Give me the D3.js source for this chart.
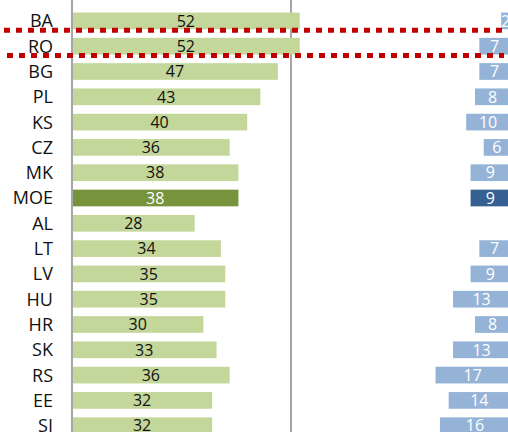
<!DOCTYPE html>
<html>
<head>
<meta charset="utf-8">
<script src="https://cdn.jsdelivr.net/npm/d3@7"></script>
<style>
  body { margin: 0; background: #fff; }
  text { font-family: "Open Sans", sans-serif; }
</style>
</head>
<body>
<div id="chart"></div>
<script>
const categories = ['BA', 'RO', 'BG', 'PL', 'KS', 'CZ', 'MK', 'MOE', 'AL', 'LT', 'LV', 'HU', 'HR', 'SK', 'RS', 'EE', 'SI'];
const leftValues = [52, 52, 47, 43, 40, 36, 38, 38, 28, 34, 35, 35, 30, 33, 36, 32, 32];
const rightValues = [2, 7, 7, 8, 10, 6, 9, 9, null, 7, 9, 13, 8, 13, 17, 14, 16];
const gridTicks = [50];
const highlight = 'MOE';
const markedRows = ['BA', 'RO'];

const width = 508;
const height = 432;

const svg = d3.select('#chart')
  .append('svg')
  .attr('width', width)
  .attr('height', height);

const y = d3.scaleBand()
  .domain(categories)
  .range([8.25, 8.25 + 25.3 * categories.length])
  .paddingInner(0.34)
  .paddingOuter(0.17);

// left block grows to the right, right block grows to the left from the edge
const xL = d3.scaleLinear().domain([0, 50]).range([72, 291]);
const xR = d3.scaleLinear().domain([0, 50]).range([510, 291]);

// grid line
svg.selectAll('line.grid')
  .data(gridTicks)
  .enter()
  .append('line')
  .attr('class', 'grid')
  .attr('x1', d => xL(d))
  .attr('x2', d => xL(d))
  .attr('y1', 0)
  .attr('y2', height)
  .attr('stroke', '#a6a6a6')
  .attr('stroke-width', 2);

// left bars
svg.selectAll('rect.left')
  .data(categories)
  .enter()
  .append('rect')
  .attr('class', 'left')
  .attr('x', xL(0))
  .attr('y', d => y(d))
  .attr('width', (d, i) => xL(leftValues[i]) - xL(0))
  .attr('height', y.bandwidth())
  .attr('fill', d => (d === highlight ? '#77933c' : '#c4d79b'));

svg.selectAll('text.lval')
  .data(categories)
  .enter()
  .append('text')
  .attr('class', 'lval')
  .attr('x', (d, i) => (xL(0) + xL(leftValues[i])) / 2)
  .attr('y', d => y(d) + y.bandwidth() / 2)
  .attr('dy', '0.36em')
  .attr('text-anchor', 'middle')
  .attr('font-size', 16)
  .attr('fill', d => (d === highlight ? '#fff' : '#111'))
  .text((d, i) => leftValues[i]);

// right bars
const rightData = categories
  .map((c, i) => ({ c, v: rightValues[i] }))
  .filter(d => d.v != null);

svg.selectAll('rect.right')
  .data(rightData)
  .enter()
  .append('rect')
  .attr('class', 'right')
  .attr('x', d => xR(d.v))
  .attr('y', d => y(d.c))
  .attr('width', d => xR(0) - xR(d.v))
  .attr('height', y.bandwidth())
  .attr('fill', d => (d.c === highlight ? '#366092' : '#95b3d7'));

svg.selectAll('text.rval')
  .data(rightData)
  .enter()
  .append('text')
  .attr('class', 'rval')
  .attr('x', d => (xR(0) + xR(d.v)) / 2)
  .attr('y', d => y(d.c) + y.bandwidth() / 2)
  .attr('dy', '0.36em')
  .attr('text-anchor', 'middle')
  .attr('font-size', 16)
  .attr('fill', '#fff')
  .text(d => d.v);

// category axis
svg.append('line')
  .attr('x1', xL(0))
  .attr('x2', xL(0))
  .attr('y1', 0)
  .attr('y2', height)
  .attr('stroke', '#a6a6a6')
  .attr('stroke-width', 2);

svg.selectAll('text.cat')
  .data(categories)
  .enter()
  .append('text')
  .attr('class', 'cat')
  .attr('x', 53)
  .attr('y', d => y(d) + y.bandwidth() / 2)
  .attr('dy', '0.36em')
  .attr('text-anchor', 'end')
  .attr('font-size', 18)
  .attr('fill', '#111')
  .text(d => d);

// red dotted markers under the marked rows
svg.selectAll('line.mark')
  .data(markedRows)
  .enter()
  .append('line')
  .attr('class', 'mark')
  .attr('x1', (d, i) => (i === 0 ? 4 : 7))
  .attr('x2', (d, i) => (i === 0 ? 502 : 504))
  .attr('y1', d => y(d) + y.bandwidth() + 1)
  .attr('y2', d => y(d) + y.bandwidth() + 1)
  .attr('stroke', '#c00000')
  .attr('stroke-width', 5)
  .attr('stroke-dasharray', '6 6');
</script>
</body>
</html>
